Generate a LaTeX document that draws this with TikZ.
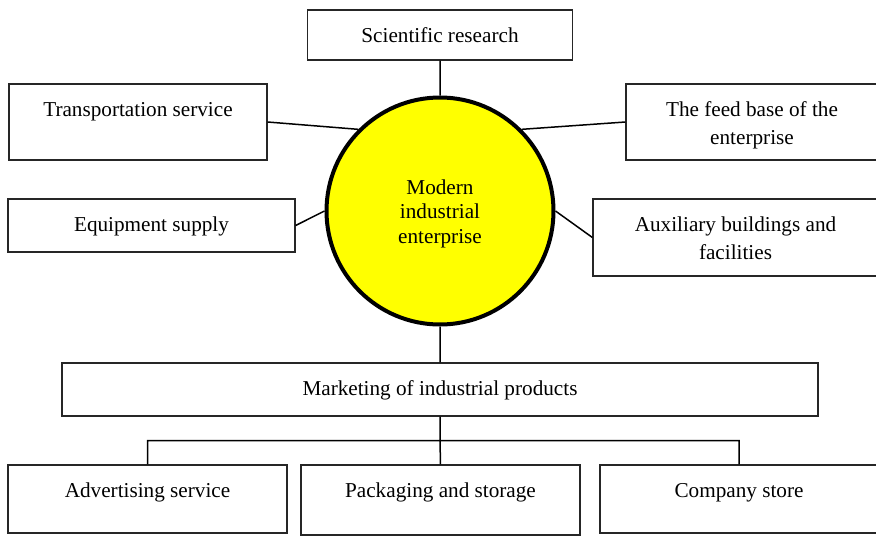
\documentclass[tikz,border=0pt]{standalone}
\usepackage{fontspec}
\setmainfont{Liberation Serif}
\definecolor{hubyellow}{RGB}{255,255,0}

\begin{document}
\begin{tikzpicture}[x=1pt,y=-1pt,line width=1.5pt,font=\fontsize{21.2}{28}\selectfont]
\tikzstyle{box}=[rectangle,draw=black!85,line width=1.2pt,inner sep=0pt]
\tikzstyle{caption}=[anchor=base,yshift=-33pt,align=center,inner sep=0pt]
% base of a two-line caption sits on its last line
\tikzstyle{caption2}=[caption,yshift=-28pt]
\tikzstyle{hub}=[circle,draw=black,fill=hubyellow,line width=4pt,inner sep=0pt,align=center]

\useasboundingbox (0,0) rectangle (876,536);

% the enterprise and what feeds it
\node[hub,minimum size=227pt,label={[align=center,inner sep=0pt,yshift=-2.5pt,font=\fontsize{21.2}{24.5}\selectfont]center:Modern\\industrial\\enterprise}] (hub) at (440,211) {};

\node[box,minimum width=265pt,minimum height=50pt,label={[caption]north:Scientific research}] (research) at (440,35) {};
\node[box,minimum width=258pt,minimum height=76pt,label={[caption]north:Transportation service}] (transport) at (138,122) {};
\node[box,minimum width=252pt,minimum height=76pt,label={[caption2]north:{The feed base of the\\enterprise}}] (feed) at (752,122) {};
\node[box,minimum width=287pt,minimum height=53pt,label={[caption]north:Equipment supply}] (equip) at (151.5,225.5) {};
\node[box,minimum width=285pt,minimum height=77pt,label={[caption2]north:{Auxiliary buildings and\\facilities}}] (aux) at (735.5,237.5) {};

% sales side
\node[box,minimum width=756pt,minimum height=53pt,label={[caption]north:Marketing of industrial products}] (market) at (440,389.5) {};
\node[box,minimum width=279pt,minimum height=68pt,label={[caption]north:Advertising service}] (advert) at (147.5,499) {};
\node[box,minimum width=279pt,minimum height=70pt,label={[caption]north:Packaging and storage}] (pack) at (440.5,500) {};
\node[box,minimum width=278pt,minimum height=68pt,label={[caption]north:Company store}] (store) at (739,499) {};

\path[draw]
	(research.south) -- (hub.north)
	(transport.east) -- (hub.135)
	(feed.west) -- (hub.45)
	(equip.east) -- (hub.west)
	(aux.west) -- (hub.east)
	(hub.south) -- (market.north)
	(market.south) -- ++(0,24) coordinate (fork)
	(advert.north) |- (fork) -| (store.north)
	(fork) -- (pack.north);
\end{tikzpicture}
\end{document}
